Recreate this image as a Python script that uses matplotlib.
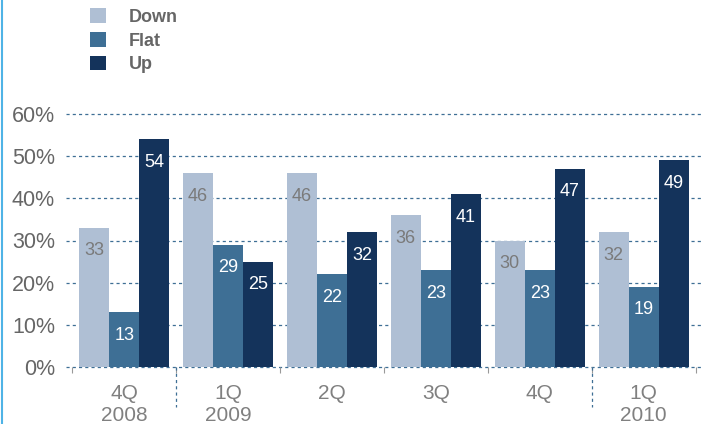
import matplotlib
matplotlib.use("Agg")
import matplotlib.pyplot as plt
import numpy as np
from matplotlib.lines import Line2D
import matplotlib.transforms as mtransforms

categories = ["4Q\n2008", "1Q\n2009", "2Q", "3Q", "4Q", "1Q\n2010"]
series_names = ["Down", "Flat", "Up"]
down = [33, 46, 46, 36, 30, 32]
flat = [13, 29, 22, 23, 23, 19]
up = [54, 25, 32, 41, 47, 49]
yticks = [0, 10, 20, 30, 40, 50, 60]
ytick_labels = ["0%", "10%", "20%", "30%", "40%", "50%", "60%"]

colors = ["#AFBFD4", "#3E6F95", "#14335B"]
label_colors = ["#7A7A7A", "white", "white"]

plt.rcParams['font.family'] = ['Liberation Sans', 'DejaVu Sans']

fig = plt.figure(figsize=(7.02, 4.24), dpi=100)
ax = fig.add_axes([66/702, 1 - 367/424, 1 - 66/702, (367 - 114)/424])

x = np.arange(len(categories))
w = 0.29
bars_all = []
for i, (vals, c, lc) in enumerate(zip([down, flat, up], colors, label_colors)):
    bars = ax.bar(x + (i - 1) * w, vals, width=w, color=c, label=series_names[i],
                  zorder=3, clip_on=False)
    bars_all.append(bars)
    for xi, v in zip(x + (i - 1) * w, vals):
        ax.annotate(str(v), (xi, v), xytext=(0, -23), textcoords="offset pixels",
                    ha="center", va="center", color=lc, fontsize=13, zorder=4)

ax.set_xlim(-0.56, len(categories) - 1 + 0.56)
ax.set_ylim(0, 60)
ax.set_yticks(yticks)
ax.set_yticklabels(ytick_labels)
ax.grid(False)
for yv in yticks:
    ax.axhline(yv, color="#3E6F95", linestyle=(0, (2.5, 2.5)), linewidth=0.9, zorder=1, clip_on=False)

for s in ax.spines.values():
    s.set_visible(False)

ax.tick_params(axis="y", length=0, labelsize=15.5, labelcolor="#666666", pad=8)
ax.set_xticks(x)
ax.set_xticklabels(categories, linespacing=1.25)
ax.tick_params(axis="x", length=0, labelsize=15, labelcolor="#808080", pad=12)
ax.set_xticks(np.arange(-0.5, len(categories), 1.0), minor=True)
ax.tick_params(axis="x", which="minor", length=4, color="#999999", width=0.8)

trans = mtransforms.blended_transform_factory(ax.transData, ax.transAxes)
for xb in [0.5, 4.5]:
    ax.add_line(Line2D([xb, xb], [0, -40/253], transform=trans, color="#3E6F95",
                       linestyle=(0, (2.5, 2.5)), linewidth=0.9, clip_on=False))

# left border line
fig.add_artist(Line2D([2/702, 2/702], [0, 1], transform=fig.transFigure, color="#4FB3E6", linewidth=1.5))

leg = fig.legend(handles=[b[0] for b in bars_all], labels=series_names,
                 loc="upper left", bbox_to_anchor=(74/702, 1 + 8/424), frameon=False,
                 handlelength=0.89, handleheight=0.89, handletextpad=1.25, labelspacing=0.33,
                 prop={"weight": "bold", "size": 13})
for t in leg.get_texts():
    t.set_color("#666666")

fig.savefig("out.png", dpi=100)
